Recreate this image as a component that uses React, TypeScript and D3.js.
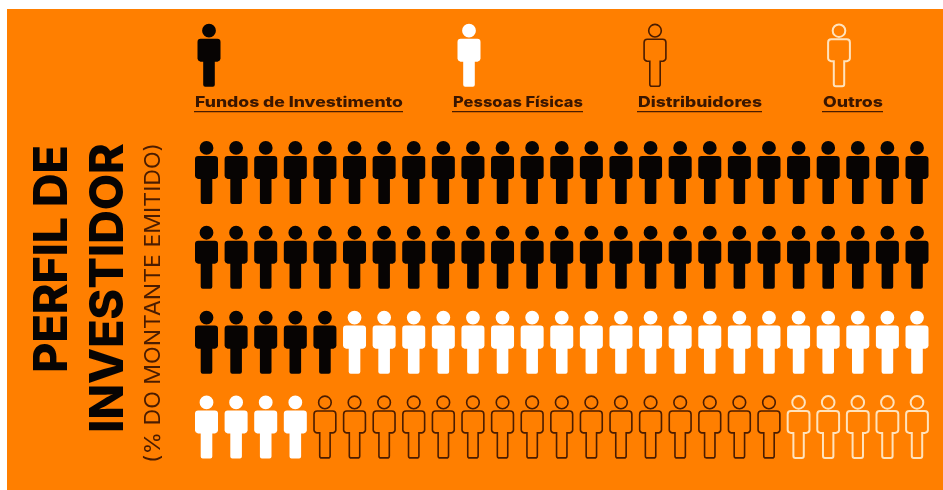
import React from "react";
import * as d3 from "d3";

const categories = ["Fundos de Investimento", "Pessoas Físicas", "Distribuidores", "Outros"];
const values = [55, 24, 16, 5];
const categoryFill = ["#070403", "#ffffff", "none", "none"];
const categoryStroke = ["#070403", "#ffffff", "#4a1c00", "#ffe3bd"];
const titleLines = ["PERFIL DE", "INVESTIDOR"];
const subtitle = "(% DO MONTANTE EMITIDO)";
const legendIconX = [209, 469, 655, 839];
const legendLabelX = [195, 453, 638, 823];
const legendLabelEnd = [403, 583, 762, 883];

const W = 943, H = 490;
const columns = d3.range(25);
const rows = d3.range(4);

// icon outline, centred on x = 0, running from y = 0 (head top) to y = 63 (feet)
function personPath(inset: number) {
  const p = d3.path();
  const r = 6.9 - inset;
  p.moveTo(r, 6.9);
  p.arc(0, 6.9, r, 0, Math.PI * 2);
  p.closePath();
  const sw = 11.5 - inset, st = 14.9 + inset, sb = 38 - inset, lw = 5.8 - inset, fb = 63 - inset, c = 3.2, e = 3;
  p.moveTo(-sw + c, st);
  p.lineTo(sw - c, st);
  p.quadraticCurveTo(sw, st, sw, st + c);
  p.lineTo(sw, sb - e);
  p.quadraticCurveTo(sw, sb - 0.8, sw - e, sb);
  p.lineTo(lw, sb);
  p.lineTo(lw, fb - 2);
  p.quadraticCurveTo(lw, fb, lw - 2, fb);
  p.lineTo(-lw + 2, fb);
  p.quadraticCurveTo(-lw, fb, -lw, fb - 2);
  p.lineTo(-lw, sb);
  p.lineTo(-sw + e, sb);
  p.quadraticCurveTo(-sw, sb - 0.8, -sw, sb - e);
  p.lineTo(-sw, st + c);
  p.quadraticCurveTo(-sw, st, -sw + c, st);
  p.closePath();
  return p.toString();
}

const x = d3.scalePoint<number>().domain(columns).range([206.5, 917]);
const y = d3.scalePoint<number>().domain(rows).range([141, 395.5]);

function Person({ cx, top, cat }: { cx: number; top: number; cat: number }) {
  const outline = categoryFill[cat] === "none";
  return (
    <path
      transform={`translate(${cx},${top})`}
      d={personPath(outline ? 0.6 : 0)}
      fill={categoryFill[cat]}
      stroke={outline ? categoryStroke[cat] : "none"}
      strokeWidth={outline ? (cat === 3 ? 2 : 1.6) : 0}
    />
  );
}

export default function App() {
  const cats = values.flatMap((v, i) => d3.range(v).map(() => i));
  return (
    <svg
      width={W}
      height={H}
      viewBox={`0 0 ${W} ${H}`}
      style={{ position: "fixed", left: 0, top: 0, background: "#ffffff", display: "block" }}
    >
      <rect x={7} y={9} width={W - 7} height={H - 9} fill="#ff7f00" />
      <g style={{ filter: "blur(0.6px)" }}>
        {categories.map((c, i) => (
          <g key={c}>
            <Person cx={legendIconX[i]} top={23.8} cat={i} />
            <text
              x={legendLabelX[i]}
              y={107}
              fontFamily="Inter, sans-serif"
              fontWeight={800}
              fontSize={14.5}
              fill="#3a1600"
              textLength={legendLabelEnd[i] - legendLabelX[i]}
              lengthAdjust="spacingAndGlyphs"
            >
              {c}
            </text>
            <line
              x1={legendLabelX[i] - 1}
              x2={legendLabelEnd[i]}
              y1={111.7}
              y2={111.7}
              stroke="#4a1c00"
              strokeWidth={1.3}
            />
          </g>
        ))}
        {cats.map((cat, i) => (
          <Person key={i} cx={x(i % 25)!} top={y(Math.floor(i / 25))!} cat={cat} />
        ))}
        <text
          transform="translate(67,373) rotate(-90)"
          fontFamily="Inter, sans-serif"
          fontWeight={800}
          fontSize={47}
          fill="#070403"
          textLength={228}
          lengthAdjust="spacing"
        >
          {titleLines[0]}
        </text>
        <text
          transform="translate(123,433) rotate(-90)"
          fontFamily="Inter, sans-serif"
          fontWeight={800}
          fontSize={47}
          fill="#070403"
          textLength={290}
          lengthAdjust="spacing"
        >
          {titleLines[1]}
        </text>
        <text
          transform="translate(160,463) rotate(-90)"
          fontFamily="Inter, sans-serif"
          fontWeight={400}
          fontSize={21}
          fill="#4a1c00"
          textLength={320}
          lengthAdjust="spacingAndGlyphs"
        >
          {subtitle}
        </text>
      </g>
    </svg>
  );
}
